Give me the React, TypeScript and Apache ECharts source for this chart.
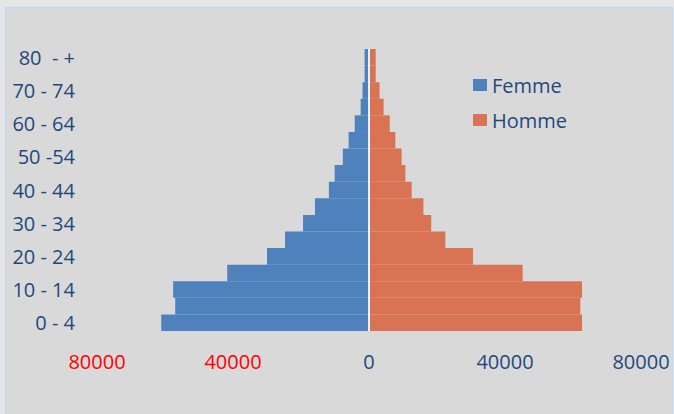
import React, { useEffect, useRef } from "react";
import * as echarts from "echarts";

const ageGroups = [
  "0 - 4", "5 - 9", "10 - 14", "15 - 19", "20 - 24", "25 - 29", "30 - 34", "35 - 39",
  "40 - 44", "45 - 49", "50 -54", "55 - 59", "60 - 64", "65 - 69", "70 - 74", "75 - 79", "80  - +",
];
const femme = [61100, 57000, 57600, 41700, 30000, 24700, 19400, 15900, 11800, 10100, 7700, 6000, 4200, 2450, 1900, 1300, 1300];
const homme = [62650, 62150, 62650, 45200, 30600, 22450, 18300, 16000, 12550, 10700, 9600, 7750, 6100, 4300, 3100, 1970, 1970];
const seriesNames = ["Femme", "Homme"];

const TEXT = "#1F497D";
const FONT = "'Open Sans', sans-serif";

export default function App() {
  const ref = useRef<HTMLDivElement>(null);
  useEffect(() => {
    if (!ref.current) return;
    const chart = echarts.init(ref.current, null, { renderer: "svg" });
    chart.setOption({
      animation: false,
      backgroundColor: "#E6E6E6",
      graphic: [
        {
          type: "rect",
          z: -100,
          silent: true,
          shape: { x: 5.5, y: 7.5, width: 667, height: 420 },
          style: { fill: "#D9D9D9", stroke: "#C6D9F1", lineWidth: 1.5 },
        },
      ],
      grid: { left: 97, right: 33, top: 49, bottom: 83, containLabel: false },
      legend: {
        orient: "vertical",
        left: 468,
        top: 70,
        itemWidth: 14,
        itemHeight: 12,
        itemGap: 15,
        icon: "rect",
        data: seriesNames,
        textStyle: { color: TEXT, fontSize: 20, fontFamily: FONT },
      },
      xAxis: {
        type: "value",
        min: -80000,
        max: 80000,
        interval: 40000,
        splitLine: { show: false },
        axisLine: { show: false },
        axisTick: { show: false },
        axisLabel: {
          margin: 20,
          fontSize: 20,
          fontFamily: FONT,
          formatter: (v: number) => String(Math.abs(v)),
          color: (v: any) => (Number(v) < 0 ? "#FF0000" : TEXT),
        },
      },
      yAxis: {
        type: "category",
        data: ageGroups,
        axisLine: { show: false },
        axisTick: { show: false },
        axisLabel: {
          interval: 1,
          margin: 22,
          fontSize: 20,
          fontFamily: FONT,
          color: TEXT,
        },
      },
      series: [
        {
          name: seriesNames[0],
          type: "bar",
          stack: "pop",
          barCategoryGap: 0,
          data: femme.map((v) => -v),
          itemStyle: { color: "#4F81BD" },
        },
        {
          name: seriesNames[1],
          type: "bar",
          stack: "pop",
          barCategoryGap: 0,
          data: homme,
          itemStyle: { color: "#D87453" },
          markLine: {
            silent: true,
            symbol: "none",
            label: { show: false },
            lineStyle: { color: "#EAF0F8", width: 2, type: "solid" },
            data: [{ xAxis: 0 }],
          },
        },
      ],
    });
    return () => chart.dispose();
  }, []);
  return (
    <div
      ref={ref}
      style={{ position: "fixed", left: 0, top: 0, width: 674, height: 414 }}
    />
  );
}
